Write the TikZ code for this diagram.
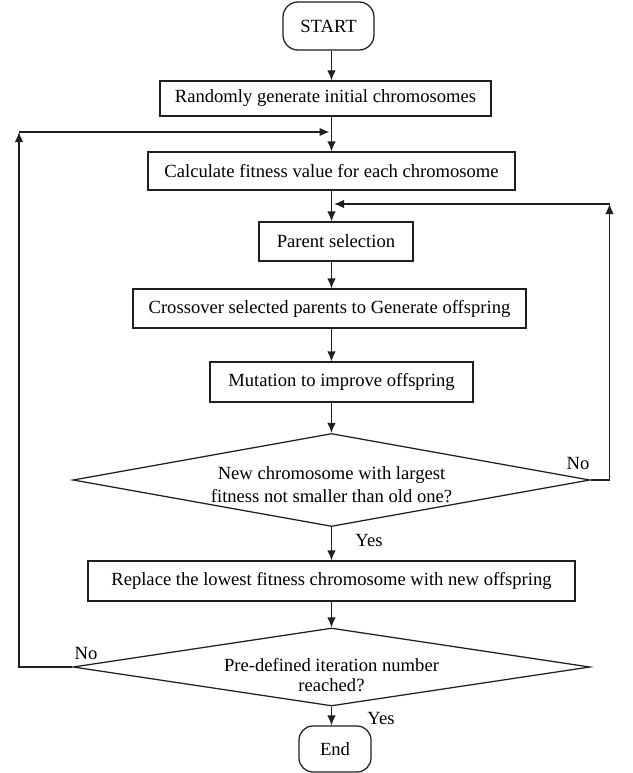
\documentclass[tikz,border=0pt]{standalone}
\usepackage{fontspec}
\setmainfont{Liberation Serif}
\newfontfamily\diagserif{Liberation Serif}
\usetikzlibrary{arrows.meta,shapes.geometric}
\begin{document}
\begin{tikzpicture}[x=1pt,y=-1pt,
  every node/.style={font=\diagserif\fontsize{18.6}{23}\selectfont, text=black},
  procbox/.style={draw=black!88, line width=1.25pt, inner sep=0pt},
  termbox/.style={draw=black!88, line width=1.25pt, inner sep=0pt, rounded corners=15pt},
  decbox/.style={draw=black!88, line width=1.25pt, inner sep=0pt, shape=diamond},
  arr/.style={draw=black!88, line width=1.25pt, -{Latex[length=10pt,width=8.5pt]}},
  lbl/.style={inner sep=0pt}]
\useasboundingbox[fill=white] (0,0) rectangle (632,773);
\coordinate (ax) at (331.5,0);

\node[termbox, minimum width=91pt, minimum height=48pt] (start) at (328.5,26) {START};
\node[procbox, minimum width=331pt, minimum height=35pt] (rand) at (325.5,98.5) {Randomly generate initial chromosomes};
\node[procbox, minimum width=367pt, minimum height=38pt] (calc) at (331.5,171) {Calculate fitness value for each chromosome};
\node[procbox, minimum width=154pt, minimum height=39pt] (par) at (336,241.5) {Parent selection};
\node[procbox, minimum width=393pt, minimum height=39pt] (cross) at (329.5,308.5) {Crossover selected parents to Generate offspring};
\node[procbox, minimum width=263pt, minimum height=40pt] (mut) at (341.5,382) {Mutation to improve offspring};
\node[decbox, aspect=5.56, minimum width=517pt, minimum height=93pt] (d1) at (331.5,480)
  {\raisebox{-6pt}[\height][\depth]{\begin{tabular}{@{}c@{}}New chromosome with largest\\fitness not smaller than old one?\end{tabular}}};
\node[procbox, minimum width=487pt, minimum height=40pt] (rep) at (331.5,581) {Replace the lowest fitness chromosome with new offspring};
\node[decbox, aspect=6.63, minimum width=517pt, minimum height=78pt] (d2) at (331.5,667)
  {\raisebox{-10pt}[\height][\depth]{\begin{tabular}{@{}c@{}}Pre-defined iteration number\\[-3pt]reached?\end{tabular}}};
\node[termbox, rounded corners=14pt, minimum width=72pt, minimum height=46pt] (end) at (335,749) {End};

% main vertical flow
\draw[arr] (start.south -| ax) -- (rand.north -| ax);
\draw[arr] (rand.south -| ax) -- (calc.north -| ax);
\draw[arr] (calc.south -| ax) -- (par.north -| ax);
\draw[arr] (par.south -| ax) -- (cross.north -| ax);
\draw[arr] (cross.south -| ax) -- (mut.north -| ax);
\draw[arr] (mut.south -| ax) -- (d1.north);
\draw[arr] (d1.south) -- (rep.north -| ax);
\draw[arr] (rep.south -| ax) -- (d2.north);
\draw[arr] (d2.south) -- (end.north -| ax);

% left loop (No from iteration check)
\coordinate (ltop) at (19,132);
\coordinate (lin) at (329.5,132);
\draw[arr] (d2.west) -- (d2.west -| ltop) -- (ltop);
\draw[arr] (ltop) -- (lin);

% right loop (No from fitness check)
\coordinate (rtop) at (609.5,204);
\coordinate (rin) at (334,204);
\draw[arr] (d1.east) -- (d1.east -| rtop) -- (rtop);
\draw[arr] (rtop) -- (rin);

% labels
\node[lbl] (no1) at (578,463) {No};
\node[lbl] (yes1) at (369,540) {Yes};
\node[lbl] (no2) at (86,653) {No};
\node[lbl] (yes2) at (381,718) {Yes};
\end{tikzpicture}
\end{document}
